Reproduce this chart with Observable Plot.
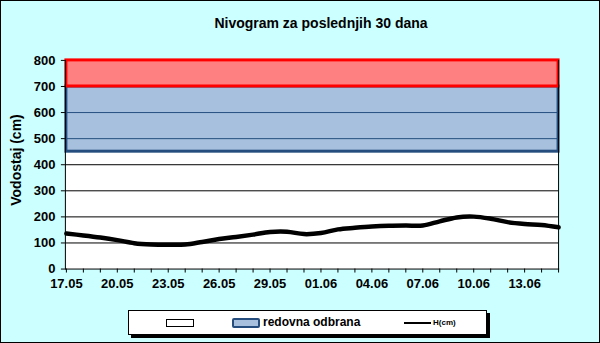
<!DOCTYPE html>
<html>
<head>
<meta charset="utf-8">
<script src="https://cdn.jsdelivr.net/npm/d3@7"></script>
<script src="https://cdn.jsdelivr.net/npm/@observablehq/plot@0.6"></script>
<style>
  html, body { margin: 0; padding: 0; }
  #chart {
    position: relative; width: 600px; height: 343px; box-sizing: border-box;
    background: #CCFFFF; border: 1px solid #000; overflow: hidden;
    font-family: "Liberation Sans", Arial, sans-serif;
  }
  #title { position: absolute; left: 0; width: 640px; top: 14px; text-align: center;
    font-weight: bold; font-size: 14px; color: #000; }
  #ylabel { position: absolute; left: 15px; top: 159px; transform: translate(-50%, -50%) rotate(-90deg);
    font-weight: bold; font-size: 14px; white-space: nowrap; }
  #plot { position: absolute; left: -1px; top: -1px; }
  #legend { position: absolute; left: 127px; top: 309px; width: 359px; height: 25px; box-sizing: border-box;
    background: #fff; border: 1px solid #000; box-shadow: 3px 3px 0 #000; }
  .sw { position: absolute; box-sizing: border-box; }
  .lt { position: absolute; font-weight: bold; white-space: nowrap; }
  #plot svg text { font-weight: bold; }
</style>
</head>
<body>
<div id="chart">
  <div id="title">Nivogram za poslednjih 30 dana</div>
  <div id="ylabel">Vodostaj (cm)</div>
  <div id="plot"></div>
  <div id="legend">
    <div class="sw" style="left:37px;top:8px;width:28px;height:8px;border:1px solid #000;background:#fff;"></div>
    <div class="sw" style="left:103px;top:7px;width:28px;height:10px;border:2px solid #254E7E;background:#A6C0DE;border-radius:2px;"></div>
    <div class="lt" style="left:134px;top:4px;font-size:12px;">redovna odbrana</div>
    <div class="sw" style="left:275px;top:11px;width:27px;height:2px;background:#000;"></div>
    <div class="lt" style="left:304px;top:7px;font-size:8px;">H(cm)</div>
  </div>
</div>
<script>
// categories: days
const days = ["17.05","18.05","19.05","20.05","21.05","22.05","23.05","24.05","25.05","26.05",
  "27.05","28.05","29.05","30.05","31.05","01.06","02.06","03.06","04.06","05.06",
  "06.06","07.06","08.06","09.06","10.06","11.06","12.06","13.06","14.06","15.06"];
// water level H(cm)
const levels = [136,129,121,111,99,94,93,94,104,115,
  123,132,142,143,134,138,152,158,163,166,
  167,167,183,198,201,193,180,173,169,160];
const yTicks = [0,100,200,300,400,500,600,700,800];
const gridWhite = [100,200,300,400];
const gridBlue = [500,600];
const blueBand = [450,700];
const redBand = [700,800];

const data = days.map((d, i) => ({day: d, h: levels[i]}));
const first = days[0], last = days[days.length - 1];

const plot = Plot.plot({
  width: 600, height: 344,
  marginLeft: 65, marginRight: 41, marginTop: 60, marginBottom: 75,
  style: {background: "transparent", color: "#000", fontFamily: "'Liberation Sans', Arial, sans-serif", fontSize: "13px", fontWeight: "bold"},
  x: {type: "point", domain: days, padding: 0},
  y: {domain: [0, 800]},
  marks: [
    Plot.frame({fill: "#fff"}),
    Plot.ruleY(gridWhite, {stroke: "#000", strokeWidth: 1}),
    Plot.rect([blueBand], {x1: () => first, x2: () => last, y1: d => d[0], y2: d => d[1], fill: "#A6C0DE"}),
    Plot.ruleY(gridBlue, {stroke: "#254E7E", strokeWidth: 1}),
    Plot.rect([blueBand], {x1: () => first, x2: () => last, y1: d => d[0], y2: d => d[1], fill: "none", stroke: "#254E7E", strokeWidth: 3}),
    Plot.rect([redBand], {x1: () => first, x2: () => last, y1: d => d[0], y2: d => d[1], fill: "#FF8080", stroke: "#FF0000", strokeWidth: 3}),
    Plot.line(data, {x: "day", y: "h", stroke: "#000", strokeWidth: 4.5, curve: "catmull-rom"}),
    Plot.frame({stroke: "#000", strokeWidth: 1, anchor: "left"}),
    Plot.frame({stroke: "#000", strokeWidth: 1, anchor: "bottom"}),
    Plot.frame({stroke: "#000", strokeWidth: 1, anchor: "right"}),
    Plot.axisX({tickSize: 4, tickPadding: 6, label: null, tickFormat: (d, i) => i % 3 === 0 ? d : ""}),
    Plot.axisY({ticks: yTicks, tickSize: 4, tickPadding: 6, label: null})
  ]
});
document.getElementById("plot").appendChild(plot);
</script>
</body>
</html>
